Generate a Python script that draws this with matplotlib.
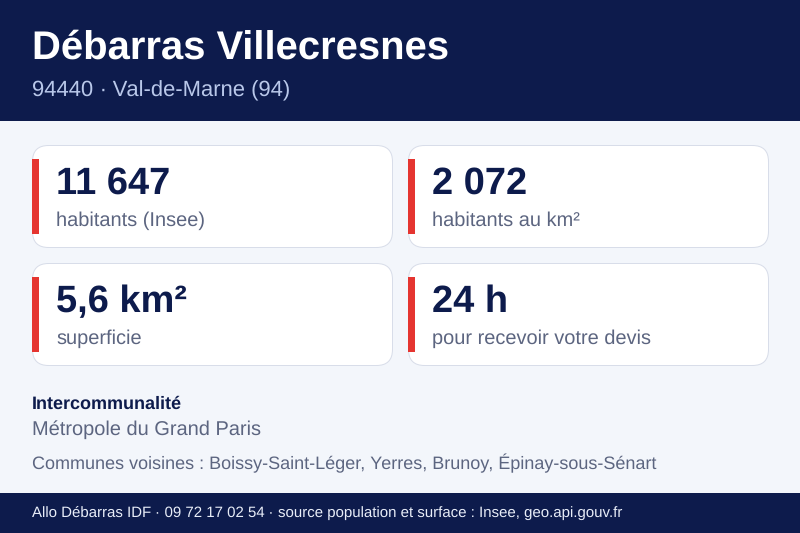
import matplotlib
matplotlib.use("Agg")
import matplotlib.pyplot as plt
from matplotlib.patches import FancyBboxPatch, Rectangle

plt.rcParams['font.family'] = ['Liberation Sans', 'DejaVu Sans']
plt.rcParams['text.hinting'] = 'no_hinting'
plt.rcParams['text.hinting_factor'] = 1

NAVY = "#0d1b4c"
RED = "#e53530"
GREY = "#5c6580"

title = "Débarras Villecresnes"
subtitle = "94440 · Val-de-Marne (94)"
card_values = ["11 647", "2 072", "5,6 km²", "24 h"]
card_labels = ["habitants (Insee)", "habitants au km²", "superficie", "pour recevoir votre devis"]
interco_title = "Intercommunalité"
interco_name = "Métropole du Grand Paris"
neighbours = "Communes voisines : Boissy-Saint-Léger, Yerres, Brunoy, Épinay-sous-Sénart"
footer = "Allo Débarras IDF · 09 72 17 02 54 · source population et surface : Insee, geo.api.gouv.fr"


def px(size):
    # font size in pixels to points at dpi 100
    return size * 0.72


fig = plt.figure(figsize=(8, 5.33), dpi=100, facecolor="#f3f6fb")
ax = fig.add_axes([0, 0, 1, 1])
ax.set_xlim(0, 800)
ax.set_ylim(533, 0)
ax.axis("off")

# header and footer bands
ax.add_patch(Rectangle((0, 0), 800, 121, fc=NAVY, ec="none"))
ax.add_patch(Rectangle((0, 493), 800, 40, fc=NAVY, ec="none"))
ax.text(32, 59, title, color="white", fontsize=px(40), fontweight="bold", va="baseline")
ax.text(32, 96, subtitle, color="#b9c8ea", fontsize=px(22), va="baseline")

# stat cards
card_x = [32, 408, 32, 408]
card_y = [145, 145, 263, 263]
for x, y, value, label in zip(card_x, card_y, card_values, card_labels):
    ax.add_patch(FancyBboxPatch((x + 0.5, y + 0.5), 360, 102, boxstyle="round,pad=0,rounding_size=16",
                                fc="white", ec="#d8dde9", lw=0.72))
    ax.add_patch(Rectangle((x, y + 14), 7, 75, fc=RED, ec="none"))
    ax.text(x + 24, y + 49, value, color=NAVY, fontsize=px(38), fontweight="bold", va="baseline")
    ax.text(x + 24, y + 81, label, color=GREY, fontsize=px(20), va="baseline")

# bottom text block
ax.text(32, 409, interco_title, color=NAVY, fontsize=px(18), fontweight="bold", va="baseline")
ax.text(32, 435, interco_name, color=GREY, fontsize=px(20), va="baseline")
ax.text(32, 469, neighbours, color=GREY, fontsize=px(18), va="baseline")
ax.text(32, 517, footer, color="#e8edf8", fontsize=px(15), va="baseline")

fig.savefig("out.png", dpi=100, facecolor=fig.get_facecolor())
